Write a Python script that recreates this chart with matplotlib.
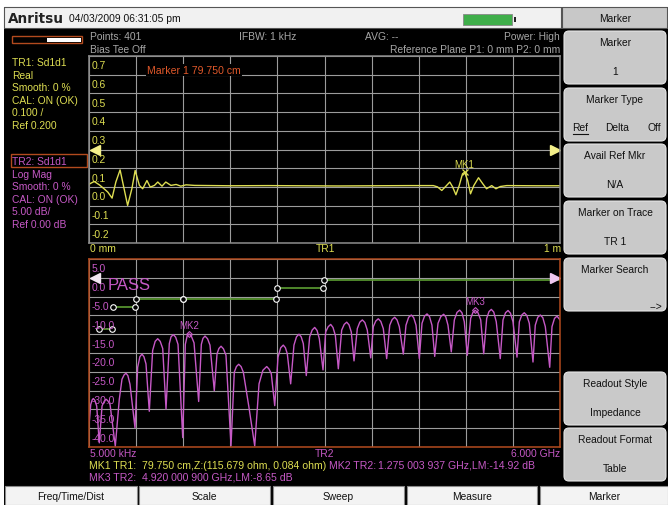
import matplotlib.pyplot as plt
import numpy as np
from matplotlib.patches import Rectangle, FancyBboxPatch
from matplotlib.transforms import offset_copy

plt.rcParams['font.family'] = ['Liberation Sans', 'DejaVu Sans']

# TR1: time domain trace, distance (m) vs real part
tr1_dist = [0.000, 0.002, 0.011, 0.022, 0.032, 0.040, 0.049, 0.057, 0.066, 0.073,
            0.082, 0.091, 0.098, 0.107, 0.114, 0.123, 0.130, 0.139, 0.146, 0.155,
            0.163, 0.174, 0.185, 0.195, 0.206, 0.224, 0.300, 0.380, 0.450, 0.530,
            0.600, 0.680, 0.731, 0.740, 0.749, 0.759, 0.766, 0.772, 0.779, 0.786,
            0.793, 0.7975, 0.804, 0.810, 0.817, 0.827, 0.836, 0.844, 0.855, 0.864,
            0.873, 0.887, 0.950, 1.000]
tr1_real = [0.012, 0.017, 0.029, 0.011, -0.010, -0.028, -0.060, 0.026, 0.091, 0.008,
            -0.099, -0.010, 0.088, 0.008, -0.010, 0.034, -0.001, 0.008, 0.026, 0.004,
            0.026, 0.008, 0.013, 0.004, 0.011, 0.008, 0.006, 0.007, 0.006, 0.005,
            0.006, 0.007, 0.007, 0.000, -0.019, 0.007, 0.026, 0.000, -0.042, 0.007,
            0.070, 0.079, 0.034, -0.037, 0.007, 0.049, 0.017, -0.010, 0.007, -0.010,
            0.002, 0.007, 0.006, 0.006]

# TR2: log magnitude, frequency (GHz) vs dB (one line per lobe)
tr2_freq = [0.005,
            0.022, 0.040, 0.055, 0.075, 0.098, 0.131,
            0.166, 0.195, 0.217, 0.240, 0.268, 0.335,
            0.386, 0.420, 0.448, 0.471, 0.495, 0.522, 0.586,
            0.620, 0.648, 0.675, 0.700, 0.726, 0.768,
            0.811, 0.843, 0.875, 0.907, 0.939, 0.981,
            1.023, 1.045, 1.074, 1.104, 1.134, 1.194,
            1.227, 1.250, 1.275, 1.305, 1.338, 1.397,
            1.431, 1.452, 1.478, 1.510, 1.541, 1.596,
            1.631, 1.655, 1.682, 1.713, 1.745, 1.809,
            1.851, 1.878, 1.907, 1.937, 1.966, 2.038, 2.111,
            2.166, 2.215, 2.264, 2.294, 2.322, 2.366,
            2.408, 2.442, 2.475, 2.502, 2.526, 2.569,
            2.611, 2.643, 2.675, 2.703, 2.730, 2.768,
            2.811, 2.843, 2.875, 2.905, 2.934, 2.981,
            3.015, 3.047, 3.079, 3.108, 3.138, 3.176,
            3.219, 3.251, 3.283, 3.312, 3.341, 3.376,
            3.418, 3.450, 3.482, 3.514, 3.545, 3.589,
            3.622, 3.653, 3.685, 3.717, 3.749, 3.792,
            3.831, 3.862, 3.894, 3.924, 3.953, 4.004,
            4.038, 4.072, 4.106, 4.136, 4.166, 4.208,
            4.242, 4.274, 4.306, 4.337, 4.369, 4.404,
            4.446, 4.482, 4.518, 4.545, 4.573, 4.615,
            4.654, 4.688, 4.722, 4.751, 4.781, 4.819,
            4.862, 4.891, 4.920, 4.955, 4.990, 5.028,
            5.066, 5.095, 5.125, 5.156, 5.188, 5.239,
            5.274, 5.306, 5.338, 5.369, 5.401, 5.452,
            5.482, 5.513, 5.545, 5.577, 5.609, 5.656,
            5.685, 5.717, 5.749, 5.781, 5.813, 5.869,
            5.898, 5.930, 5.962, 6.000]
tr2_db = [-38.0,
          -33.7, -32.5, -32.1, -32.6, -34.1, -43.9,
          -34.1, -32.8, -32.3, -32.7, -33.7, -44.8,
          -32.3, -27.0, -25.8, -25.4, -26.0, -28.3, -39.9,
          -23.8, -21.0, -20.3, -21.0, -22.9, -35.5,
          -19.3, -16.9, -16.2, -16.9, -18.8, -34.9,
          -17.5, -15.7, -15.1, -15.8, -17.7, -42.5,
          -17.7, -15.5, -14.92, -15.6, -17.3, -32.9,
          -17.7, -16.1, -15.5, -16.2, -17.9, -30.0,
          -20.2, -18.8, -18.2, -18.9, -20.6, -44.7,
          -25.1, -23.6, -23.0, -23.6, -25.1, -34.5, -44.7,
          -28.2, -24.6, -23.6, -24.3, -25.5, -34.0,
          -21.1, -18.6, -17.9, -18.6, -20.2, -28.2,
          -17.9, -15.7, -15.0, -15.7, -17.5, -26.0,
          -15.7, -13.9, -13.2, -14.0, -16.2, -24.5,
          -14.4, -13.0, -12.4, -13.2, -15.3, -24.2,
          -13.9, -12.4, -11.8, -12.5, -14.4, -22.1,
          -13.5, -11.8, -11.2, -11.9, -13.9, -21.3,
          -13.0, -11.5, -10.9, -11.6, -13.5, -21.5,
          -12.6, -11.1, -10.5, -11.2, -13.0, -20.3,
          -12.6, -10.5, -9.9, -10.6, -12.6, -21.5,
          -12.1, -10.2, -9.6, -10.3, -12.6, -20.9,
          -12.1, -10.3, -9.7, -10.4, -12.6, -19.7,
          -11.2, -9.2, -8.6, -9.3, -11.7, -20.6,
          -10.8, -9.2, -8.65, -9.3, -11.2, -20.2,
          -10.8, -9.0, -8.4, -9.1, -11.7, -21.5,
          -11.2, -9.3, -8.7, -9.4, -11.7, -21.1,
          -11.7, -9.9, -9.3, -10.0, -12.1, -22.4,
          -12.6, -10.5, -9.9, -10.6, -13.0, -23.8,
          -13.0, -10.8, -10.2, -11.2]

# limit line segments
lim_start = [0.131, 0.302, 0.599, 1.194, 2.391, 2.994]
lim_end = [0.293, 0.586, 1.194, 2.382, 2.981, 6.000]
lim_db = [-13.65, -7.86, -5.72, -5.72, -2.58, -0.63]

# markers
mk1_dist, mk1_val = 0.7975, 0.079
mk2_freq, mk2_db = 1.275, -14.92
mk3_freq, mk3_db = 4.920, -8.65
ref_tr1, ref_tr2 = 0.2, 0.0

softkeys = [("Marker", "1"), ("Marker Type", None), ("Avail Ref Mkr", "N/A"),
            ("Marker on Trace", "TR 1"), ("Marker Search", "-->"), None,
            ("Readout Style", "Impedance"), ("Readout Format", "Table")]
bottom_keys = ["Freq/Time/Dist", "Scale", "Sweep", "Measure", "Marker"]

W, H = 668, 506
YEL = '#dede52'
MAG = '#c659c6'
GRN = '#5c9e32'
ORG = '#e0582a'
GRAY = '#a6a6a6'
BRN = '#b24a1e'
FS = 7.4

fig = plt.figure(figsize=(W / 100, H / 100), dpi=100)
fig.patch.set_facecolor('white')

bg = fig.add_axes([0, 0, 1, 1])
bg.set_xlim(0, W)
bg.set_ylim(H, 0)
bg.axis('off')


def rect(x0, y0, x1, y1, fc, ec='none', lw=0.0, z=1):
    bg.add_patch(Rectangle((x0, y0), x1 - x0, y1 - y0, fc=fc, ec=ec, lw=lw, zorder=z))


def txt(x, y, s, c, size=FS, ha='left', **kw):
    bg.text(x, y, s, color=c, fontsize=size, ha=ha, va='center', zorder=5, **kw)


# screen frame
rect(4, 8, 668, 506, 'black')
rect(4, 8, 561, 29, '#f1f1f1', ec='#555555', lw=0.8, z=2)
txt(8, 19, "Anritsu", '#222222', size=9.8, fontweight='bold', family='DejaVu Sans')
txt(69, 19, "04/03/2009 06:31:05 pm", '#111111')
rect(463, 15, 512, 26, '#3fae4a', ec='#888888', lw=0.6, z=3)
rect(514, 18, 516, 23, '#222222', z=3)

# right softkey column
rect(562, 8, 667, 29, '#c8c8c8', ec='#555555', lw=0.8, z=2)
txt(615, 19, "Marker", '#111111', ha='center')
key_top = [31, 88, 144, 201, 258, 315, 372, 428]
for top, key in zip(key_top, softkeys):
    if key is None:
        continue
    bg.add_patch(FancyBboxPatch((564, top + 1), 102, 53,
                                boxstyle="round,pad=0,rounding_size=5",
                                fc='#c9c9c9', ec='#e6e6e6', lw=0.8, zorder=2))
    title, val = key
    txt(615, top + 12, title, '#111111', ha='center')
    if title == "Marker Type":
        txt(580, top + 40, "Ref", '#111111', ha='center')
        bg.plot([573, 588], [top + 47, top + 47], color='#111111', lw=0.8, zorder=5)
        txt(617, top + 40, "Delta", '#111111', ha='center')
        txt(654, top + 40, "Off", '#111111', ha='center')
    elif val == "-->":
        txt(662, top + 49, val, '#111111', ha='right')
    else:
        txt(615, top + 41, val, '#111111', ha='center')

# bottom row of keys
key_x = [(5, 137), (139, 270), (273, 404), (407, 537), (540, 668)]
for (x0, x1), lab in zip(key_x, bottom_keys):
    rect(x0, 487, x1, 506, '#f3f3f3', ec='#8a8a8a', lw=0.8, z=2)
    txt((x0 + x1) / 2, 497, lab, '#111111', ha='center')

# left status panel
rect(12, 37, 82, 44, 'black', ec=BRN, lw=1.0, z=2)
rect(47, 38.5, 81, 42.5, 'white', z=3)
tr1_lines = ["TR1: Sd1d1", "Real", "Smooth: 0 %", "CAL: ON (OK)", "0.100 /", "Ref 0.200"]
tr2_lines = ["TR2: Sd1d1", "Log Mag", "Smooth: 0 %", "CAL: ON (OK)", "5.00 dB/", "Ref 0.00 dB"]
for i, s in enumerate(tr1_lines):
    txt(12, 63 + i * 12.5, s, YEL)
for i, s in enumerate(tr2_lines):
    txt(12, 162 + i * 12.6, s, MAG)
rect(11, 155, 87, 168, 'none', ec=BRN, lw=1.0, z=4)

# info lines
txt(90, 37, "Points: 401", GRAY)
txt(239, 37, "IFBW: 1 kHz", GRAY)
txt(365, 37, "AVG: --", GRAY)
txt(560, 37, "Power: High", GRAY, ha='right')
txt(90, 50, "Bias Tee Off", GRAY)
txt(560, 50, "Reference Plane P1: 0 mm P2: 0 mm", GRAY, ha='right')

# axis captions
txt(90, 249, "0 mm", YEL)
txt(325, 249, "TR1", YEL, ha='center')
txt(561, 249, "1 m", YEL, ha='right')
txt(90, 454, "5.000 kHz", MAG)
txt(325, 454, "TR2", MAG, ha='center')
txt(560, 454, "6.000 GHz", MAG, ha='right')

# marker readout table
RS = 7.6
txt(89, 466, "MK1 TR1:", YEL, size=RS)
txt(142, 466, "79.750 cm,Z:(115.679 ohm, 0.084 ohm)", YEL, size=RS)
txt(329, 466, "MK2 TR2:", MAG, size=RS)
txt(378, 466, "1.275 003 937 GHz,LM:-14.92 dB", MAG, size=RS)
txt(89, 478, "MK3 TR2:", MAG, size=RS)
txt(142, 478, "4.920 000 900 GHz,LM:-8.65 dB", MAG, size=RS)


def plot_axes(x, y, w, h):
    return fig.add_axes([x / W, 1 - (y + h) / H, w / W, h / H], zorder=3)


def style(ax, xmax, ylo, yhi, edge):
    ax.set_facecolor('black')
    ax.set_xlim(0, xmax)
    ax.set_ylim(ylo, yhi)
    ax.set_xticks(np.linspace(0, xmax, 11))
    ax.set_yticks(np.linspace(ylo, yhi, 11))
    ax.tick_params(length=0, labelbottom=False, labelleft=False)
    ax.grid(True, color='#9c9c9c', lw=0.8)
    ax.set_axisbelow(True)
    for sp in ax.spines.values():
        sp.set_color(edge)
        sp.set_linewidth(1.1)


# top plot: TR1
ax1 = plot_axes(89, 57, 471, 187)
style(ax1, 1.0, -0.3, 0.7, '#8c8c8c')
for v in np.linspace(-0.2, 0.7, 10):
    ax1.text(0.006, v - 0.05, f"{round(v, 1) + 0:.1f}", color=YEL, fontsize=FS,
             va='center', transform=ax1.get_yaxis_transform())
ax1.plot(tr1_dist, tr1_real, color=YEL, lw=1.0)
ax1.plot(0, ref_tr1, marker='<', color='#f4f08a', ms=6.5, clip_on=False,
         transform=offset_copy(ax1.transData, fig=fig, x=6, y=0, units='dots'))
ax1.plot(1.0, ref_tr1, marker='>', color='#f4f08a', ms=6.5, clip_on=False,
         transform=offset_copy(ax1.transData, fig=fig, x=-5, y=0, units='dots'))
ax1.plot(mk1_dist, mk1_val, marker='x', color=YEL, ms=4, mew=0.9)
ax1.annotate("MK1", (mk1_dist, mk1_val), xytext=(0, 8), textcoords='offset pixels',
             color=YEL, fontsize=7, ha='center', va='center')
ax1.text(0.123, 0.925, "Marker 1 79.750 cm", color=ORG, fontsize=7.6,
         transform=ax1.transAxes, va='center',
         bbox=dict(fc='black', ec='none', pad=1))

# bottom plot: TR2
ax2 = plot_axes(89, 260, 471, 188)
style(ax2, 6.0, -45, 5, BRN)
for v in np.arange(5, -41, -5):
    ax2.text(0.006, v - 2.5, f"{v:.1f}", color=MAG, fontsize=FS,
             va='center', transform=ax2.get_yaxis_transform())
for s, e, d in zip(lim_start, lim_end, lim_db):
    ax2.plot([s, e], [d, d], color=GRN, lw=1.2)
    pts = [s] if e >= 6.0 else [s, e]
    ax2.plot(pts, [d] * len(pts), 'o', ms=4, mfc='black', mec='white', mew=0.8)
ax2.plot(tr2_freq, tr2_db, color=MAG, lw=1.0)
ax2.plot(0, ref_tr2, marker='<', color='#f2e6f2', ms=6.5, clip_on=False,
         transform=offset_copy(ax2.transData, fig=fig, x=6, y=0, units='dots'))
ax2.plot(6.0, ref_tr2, marker='>', color='#f0c8f0', ms=6.5, clip_on=False,
         transform=offset_copy(ax2.transData, fig=fig, x=-5, y=0, units='dots'))
ax2.text(0.040, 0.867, "PASS", color=MAG, fontsize=12, va='center',
         transform=ax2.transAxes)
for f, d, lab in [(mk2_freq, mk2_db, "MK2"), (mk3_freq, mk3_db, "MK3")]:
    ax2.plot(f, d, marker='D', ms=3, mfc='none', mec=MAG, mew=0.8)
    ax2.annotate(lab, (f, d), xytext=(0, 9), textcoords='offset pixels',
                 color=MAG, fontsize=7, ha='center', va='center')

fig.savefig('out.png', dpi=100, facecolor=fig.get_facecolor())
